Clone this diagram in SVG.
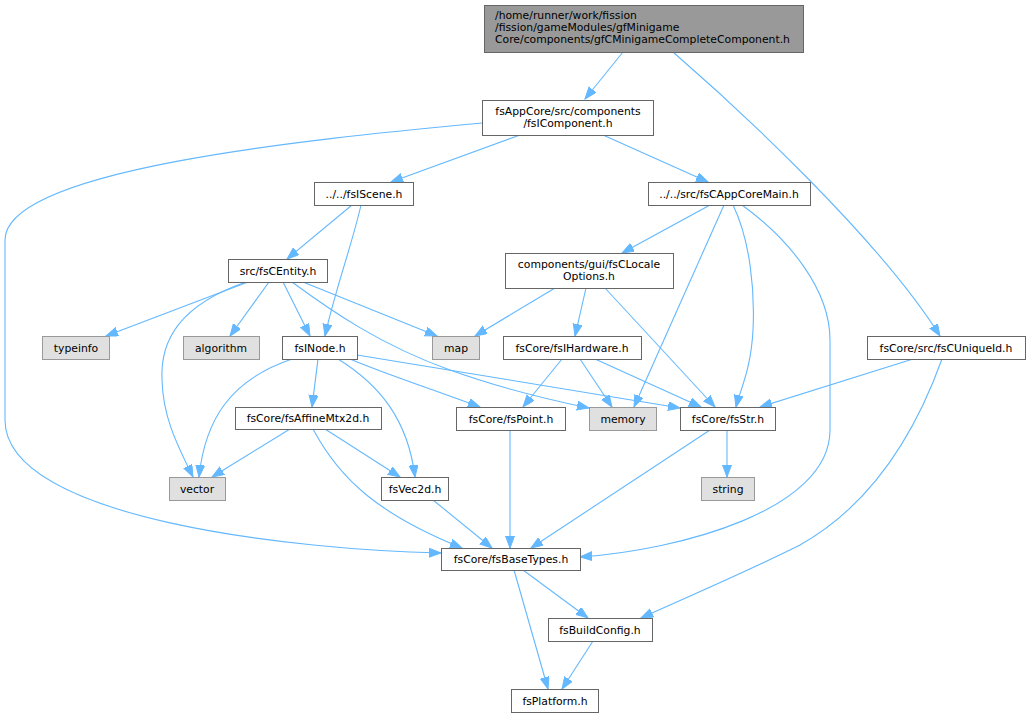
<svg xmlns="http://www.w3.org/2000/svg" width="1031" height="717" viewBox="0 0 1031 717">
<defs>
<marker id="ah" markerUnits="userSpaceOnUse" markerWidth="14" markerHeight="11" refX="12" refY="4.5" orient="auto">
<path d="M0,0 L12,4.5 L0,9 z" fill="#63b8ff" stroke="#63b8ff" stroke-width="1"/>
</marker>
</defs>
<style>
.n rect{fill:#ffffff;stroke:#666666;stroke-width:1}
.x rect{fill:#e0e0e0;stroke:#999999;stroke-width:1}
.t rect{fill:#999999;stroke:#666666;stroke-width:1}
text{font-family:"DejaVu Sans","Liberation Sans",sans-serif;font-size:10.8px;fill:#000000}
.c{text-anchor:middle}
#edges path{fill:none;stroke:#63b8ff;stroke-width:1.1;marker-end:url(#ah)}
</style>
<rect width="1031" height="717" fill="#ffffff"/>
<g id="edges">
<path d="M623,52 L585,99"/>
<path d="M673,52 C740,110 880,240 940,336"/>
<path d="M520,135 L391,182"/>
<path d="M603,135 L708,182"/>
<path d="M482,123 C300,140 5,170 5,240 L5,420 C5,520 300,550 441,553"/>
<path d="M352,205 L287,259"/>
<path d="M361,205 C352,245 335,290 325,336"/>
<path d="M248,282 L106,336"/>
<path d="M246,282 C180,305 160,340 162,380 C163,420 180,450 193,477"/>
<path d="M269,282 L230,336"/>
<path d="M283,282 L310,336"/>
<path d="M303,282 L437,336"/>
<path d="M292,282 C330,310 380,345 450,370 C500,388 550,400 589,408"/>
<path d="M292,359 C230,380 205,420 199,477"/>
<path d="M318,359 L312,407"/>
<path d="M338,359 C380,385 408,420 415,477"/>
<path d="M350,359 C380,372 420,385 480,407"/>
<path d="M357,355 C450,370 600,395 680,408"/>
<path d="M290,429 L212,477"/>
<path d="M325,429 L400,477"/>
<path d="M313,429 C340,480 380,515 462,548"/>
<path d="M433,500 L492,548"/>
<path d="M510,430 L510,548"/>
<path d="M710,430 L531,548"/>
<path d="M727,430 L727,477"/>
<path d="M710,205 L622,253"/>
<path d="M724,205 L634,407"/>
<path d="M733,205 C750,240 755,290 753,330 C751,370 740,390 736,407"/>
<path d="M742,205 C790,240 830,290 830,340 L830,430 C830,510 680,550 580,557"/>
<path d="M555,288 L475,336"/>
<path d="M586,288 L575,336"/>
<path d="M605,288 L715,407"/>
<path d="M562,359 L523,407"/>
<path d="M580,359 L612,407"/>
<path d="M595,359 L701,407"/>
<path d="M913,359 L760,407"/>
<path d="M942,359 C920,420 880,500 800,545 C740,575 680,600 641,618"/>
<path d="M523,570 L588,618"/>
<path d="M514,570 L548,689"/>
<path d="M593,641 L562,689"/>
</g>
<g id="node_top" class="t"><rect x="484.5" y="5.5" width="319" height="47"/>
<text x="495" y="18.5">/home/runner/work/fission</text>
<text x="495" y="30.5">/fission/gameModules/gfMinigame</text>
<text x="495" y="42.5">Core/components/gfCMinigameCompleteComponent.h</text></g>
<g id="node_fsIComponent" class="n"><rect x="482.5" y="100.5" width="171" height="35"/>
<text class="c" x="568" y="114.5">fsAppCore/src/components</text>
<text class="c" x="568" y="126.5">/fsIComponent.h</text></g>
<g id="node_fsIScene" class="n"><rect x="314.5" y="182.5" width="99" height="23"/>
<text class="c" x="364" y="197.8">../../fsIScene.h</text></g>
<g id="node_fsCAppCoreMain" class="n"><rect x="648.5" y="182.5" width="162" height="23"/>
<text class="c" x="729" y="197.8">../../src/fsCAppCoreMain.h</text></g>
<g id="node_fsCEntity" class="n"><rect x="228.5" y="259.5" width="99" height="23"/>
<text class="c" x="278" y="274.8">src/fsCEntity.h</text></g>
<g id="node_fsCLocaleOptions" class="n"><rect x="505.5" y="253.5" width="168" height="35"/>
<text class="c" x="589" y="267.5">components/gui/fsCLocale</text>
<text class="c" x="589" y="279.5">Options.h</text></g>
<g id="node_typeinfo" class="x"><rect x="42.5" y="336.5" width="67" height="23"/>
<text class="c" x="76" y="351.8">typeinfo</text></g>
<g id="node_algorithm" class="x"><rect x="183.5" y="336.5" width="76" height="23"/>
<text class="c" x="221" y="351.8">algorithm</text></g>
<g id="node_fsINode" class="n"><rect x="282.5" y="336.5" width="75" height="23"/>
<text class="c" x="320" y="351.8">fsINode.h</text></g>
<g id="node_map" class="x"><rect x="432.5" y="336.5" width="47" height="23"/>
<text class="c" x="456" y="351.8">map</text></g>
<g id="node_fsIHardware" class="n"><rect x="503.5" y="336.5" width="138" height="23"/>
<text class="c" x="572" y="351.8">fsCore/fsIHardware.h</text></g>
<g id="node_fsCUniqueId" class="n"><rect x="867.5" y="336.5" width="158" height="23"/>
<text class="c" x="946" y="351.8">fsCore/src/fsCUniqueId.h</text></g>
<g id="node_fsAffineMtx2d" class="n"><rect x="235.5" y="407.5" width="146" height="22"/>
<text class="c" x="308" y="422.3">fsCore/fsAffineMtx2d.h</text></g>
<g id="node_fsPoint" class="n"><rect x="456.5" y="407.5" width="109" height="23"/>
<text class="c" x="511" y="422.8">fsCore/fsPoint.h</text></g>
<g id="node_memory" class="x"><rect x="589.5" y="407.5" width="67" height="23"/>
<text class="c" x="623" y="422.8">memory</text></g>
<g id="node_fsStr" class="n"><rect x="680.5" y="407.5" width="95" height="23"/>
<text class="c" x="728" y="422.8">fsCore/fsStr.h</text></g>
<g id="node_vector" class="x"><rect x="169.5" y="477.5" width="56" height="23"/>
<text class="c" x="197" y="492.8">vector</text></g>
<g id="node_fsVec2d" class="n"><rect x="381.5" y="477.5" width="67" height="23"/>
<text class="c" x="415" y="492.8">fsVec2d.h</text></g>
<g id="node_string" class="x"><rect x="701.5" y="477.5" width="53" height="23"/>
<text class="c" x="728" y="492.8">string</text></g>
<g id="node_fsBaseTypes" class="n"><rect x="441.5" y="548.5" width="139" height="22"/>
<text class="c" x="511" y="563.3">fsCore/fsBaseTypes.h</text></g>
<g id="node_fsBuildConfig" class="n"><rect x="548.5" y="618.5" width="104" height="23"/>
<text class="c" x="600" y="633.8">fsBuildConfig.h</text></g>
<g id="node_fsPlatform" class="n"><rect x="511.5" y="689.5" width="87" height="23"/>
<text class="c" x="555" y="704.8">fsPlatform.h</text></g>
</svg>
